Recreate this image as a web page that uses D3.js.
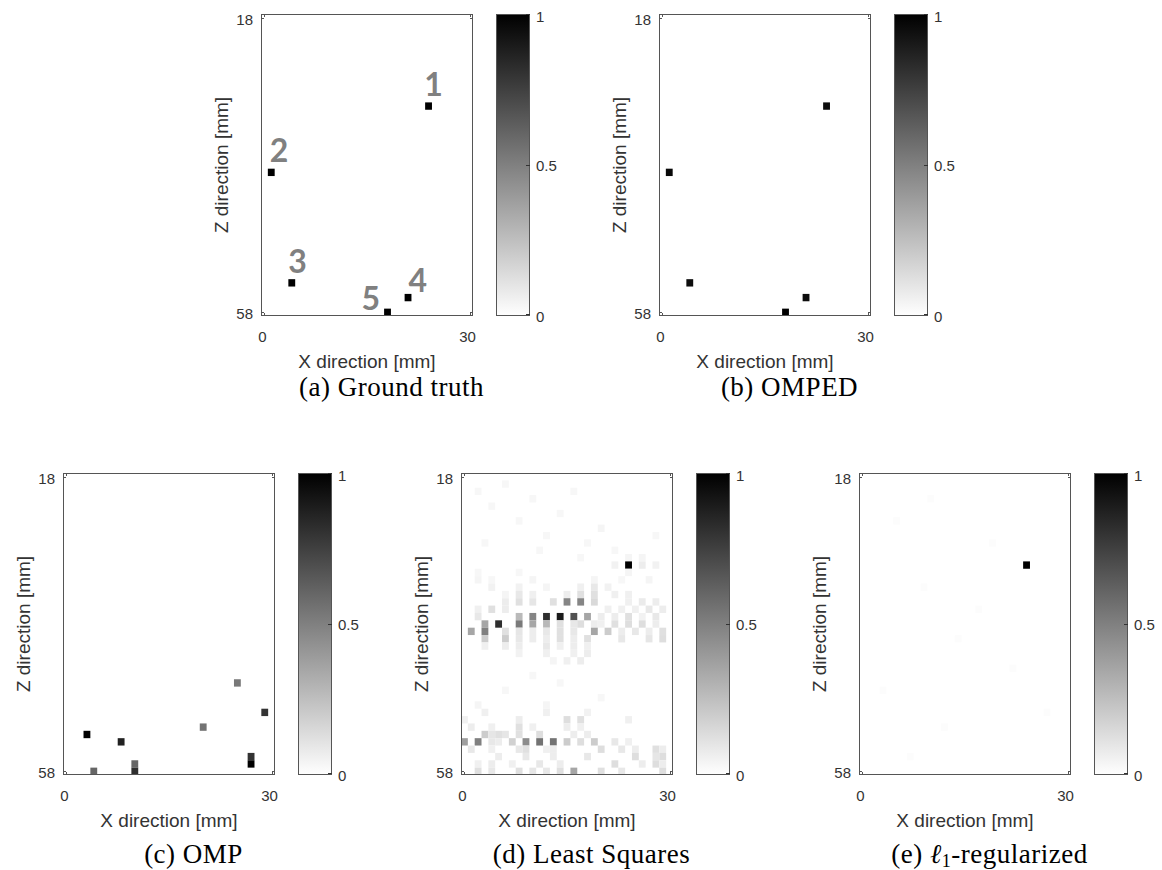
<!DOCTYPE html>
<html lang="en">
<head>
  <meta charset="UTF-8">
  <title>Sparse reconstruction comparison</title>
  <script src="https://cdn.jsdelivr.net/npm/d3@7"></script>
  <style>
    body { margin: 0; background: #fff; }
    .tick-label { font-family: "Liberation Sans", Arial, sans-serif; font-size: 15px; fill: #333; }
    .axis-label { font-family: "Liberation Sans", Arial, sans-serif; font-size: 19px; fill: #333; }
    .caption { font-family: "Liberation Serif", "Times New Roman", serif; font-size: 27px; fill: #000; letter-spacing: 0.5px; }
    .gt-num { font-family: Lato, "Open Sans", sans-serif; font-weight: 700; font-size: 32px; fill: #808080; }
  </style>
</head>
<body>
  <script>
    // grid: x 0..30 mm, z 18..58 mm, 1 mm cells
    const xTicks = [0, 30];
    const zTicks = [18, 58];
    const cbTicks = [0, 0.5, 1];

    // (a) ground truth scatterers
    const gtX = [24, 1, 4, 21, 18];
    const gtZ = [30, 39, 54, 56, 58];
    const gtV = [1, 1, 1, 1, 1];
    const gtNames = ["1", "2", "3", "4", "5"];

    // (b) OMPED
    const ompedX = [24, 1, 4, 21, 18];
    const ompedZ = [30, 39, 54, 56, 58];
    const ompedV = [0.95, 0.97, 0.95, 0.95, 1];

    // (c) OMP
    const ompX = [25, 29, 20, 3, 8, 27, 27, 10, 10, 4];
    const ompZ = [46, 50, 52, 53, 54, 56, 57, 57, 58, 58];
    const ompV = [0.53, 0.8, 0.55, 1.0, 0.87, 0.8, 1.0, 0.6, 0.82, 0.6];

    // (d) least squares [x, z, value]
    const lsCells = [
      [2,20,0.03],[6,19,0.03],[10,21,0.03],[16,20,0.03],[4,22,0.03],[14,23,0.03],[8,24,0.03],
      [20,25,0.04],[12,26,0.03],[28,26,0.03],[3,27,0.03],[18,27,0.03],[22,28,0.03],[11,28,0.03],
      [26,29,0.04],[17,29,0.03],[24,29,0.04],
      [24,30,1.0],[22,30,0.05],[26,30,0.07],[28,30,0.05],
      [24,31,0.04],[8,31,0.03],[2,31,0.03],
      [2,32,0.04],[4,32,0.03],[10,32,0.04],[19,32,0.04],[23,32,0.03],[27,32,0.04],
      [4,33,0.05],[8,33,0.05],[12,33,0.04],[17,33,0.06],[19,33,0.09],[21,33,0.05],
      [6,34,0.04],[8,34,0.09],[10,34,0.06],[15,34,0.07],[17,34,0.12],[19,34,0.12],[22,34,0.06],[24,34,0.06],
      [6,35,0.07],[8,35,0.12],[10,35,0.1],[13,35,0.12],[15,35,0.48],[17,35,0.48],[19,35,0.15],[24,35,0.06],[26,35,0.08],[28,35,0.07],
      [2,36,0.06],[4,36,0.12],[6,36,0.07],[21,36,0.06],[23,36,0.06],[25,36,0.06],[27,36,0.09],[29,36,0.07],
      [2,37,0.09],[8,37,0.27],[10,37,0.48],[12,37,0.82],[14,37,0.9],[16,37,0.68],[18,37,0.35],[20,37,0.07],[22,37,0.07],[24,37,0.12],[26,37,0.05],[28,37,0.09],
      [3,38,0.35],[5,38,0.82],[8,38,0.52],[10,38,0.35],[12,38,0.28],[14,38,0.12],[16,38,0.09],[17,38,0.13],[19,38,0.07],[20,38,0.06],[22,38,0.12],[24,38,0.13],[26,38,0.13],[28,38,0.07],
      [1,39,0.35],[3,39,0.5],[6,39,0.12],[8,39,0.1],[10,39,0.07],[12,39,0.09],[14,39,0.12],[16,39,0.09],[19,39,0.35],[21,39,0.2],[23,39,0.07],[25,39,0.09],[27,39,0.07],[29,39,0.12],
      [3,40,0.2],[6,40,0.2],[8,40,0.09],[10,40,0.07],[12,40,0.07],[14,40,0.12],[16,40,0.07],[18,40,0.12],[23,40,0.09],[27,40,0.1],[29,40,0.13],
      [3,41,0.06],[6,41,0.07],[8,41,0.07],[12,41,0.09],[14,41,0.06],[16,41,0.07],[18,41,0.06],
      [8,42,0.05],[12,42,0.06],[16,42,0.06],[18,42,0.07],
      [13,43,0.04],[15,43,0.06],[17,43,0.07],
      [10,45,0.03],[14,46,0.03],[6,47,0.03],[20,48,0.03],[2,49,0.04],[12,49,0.04],
      [3,50,0.06],[12,50,0.06],[18,50,0.05],
      [0,51,0.06],[8,51,0.07],[15,51,0.13],[17,51,0.12],[24,51,0.06],
      [1,52,0.07],[4,52,0.06],[8,52,0.12],[10,52,0.06],[15,52,0.07],[17,52,0.06],
      [3,53,0.2],[4,53,0.1],[5,53,0.12],[6,53,0.1],[8,53,0.12],[11,53,0.13],[16,53,0.07],[18,53,0.07],
      [0,54,0.38],[2,54,0.5],[4,54,0.09],[5,54,0.07],[7,54,0.18],[9,54,0.45],[11,54,0.55],[13,54,0.55],[15,54,0.2],[17,54,0.13],[19,54,0.2],[22,54,0.09],[24,54,0.06],
      [1,55,0.09],[4,55,0.06],[8,55,0.09],[9,55,0.12],[12,55,0.06],[13,55,0.07],[20,55,0.13],[23,55,0.09],[25,55,0.07],[28,55,0.12],[29,55,0.07],
      [5,56,0.07],[9,56,0.09],[13,56,0.07],[18,56,0.09],[25,56,0.13],[28,56,0.1],[29,56,0.13],
      [2,57,0.06],[4,57,0.07],[7,57,0.06],[11,57,0.09],[14,57,0.07],[22,57,0.13],[26,57,0.07],[28,57,0.13],[29,57,0.07],
      [2,58,0.12],[4,58,0.09],[8,58,0.12],[10,58,0.1],[12,58,0.09],[14,58,0.12],[16,58,0.35],[20,58,0.12],[23,58,0.09],[29,58,0.13]
    ];

    // (e) l1-regularized
    const l1X = [24, 5, 9, 14, 19, 3, 12, 22, 7, 17, 27, 10];
    const l1Z = [30, 24, 33, 40, 27, 47, 52, 44, 56, 36, 50, 21];
    const l1V = [1, 0.01, 0.01, 0.012, 0.01, 0.01, 0.012, 0.01, 0.01, 0.012, 0.01, 0.01];

    const toCells = (xs, zs, vs) => xs.map((x, i) => ({x: x, z: zs[i], v: vs[i]}));
    const fromTriples = t => t.map(d => ({x: d[0], z: d[1], v: d[2]}));

    const panelW = 212, panelH = 302, cbGap = 23, cbW = 34;

    const panels = [
      {left: 261, top: 14, capY: 396, cells: toCells(gtX, gtZ, gtV), caption: "(a) Ground truth", labels: true},
      {left: 659, top: 14, capY: 396, cells: toCells(ompedX, ompedZ, ompedV), caption: "(b) OMPED"},
      {left: 63, top: 473, capY: 863, cells: toCells(ompX, ompZ, ompV), caption: "(c) OMP"},
      {left: 461, top: 473, capY: 863, cells: fromTriples(lsCells), caption: "(d) Least Squares"},
      {left: 859, top: 473, capY: 863, cells: toCells(l1X, l1Z, l1V), caption: "l1"}
    ];

    const gray = d3.scaleLinear().domain([0, 1]).range(["#ffffff", "#000000"]);

    const svg = d3.select("body").append("svg")
      .attr("width", 1162).attr("height", 870);

    svg.append("rect").attr("width", 1162).attr("height", 870).attr("fill", "#fff");

    const defs = svg.append("defs");
    const grad = defs.append("linearGradient").attr("id", "cbgrad")
      .attr("x1", 0).attr("y1", 1).attr("x2", 0).attr("y2", 0);
    grad.selectAll("stop").data([0, 0.25, 0.5, 0.75, 1]).enter().append("stop")
      .attr("offset", d => d).attr("stop-color", d => gray(d));

    panels.forEach(p => {
      const g = svg.append("g").attr("transform", `translate(${p.left},${p.top})`);

      const x = d3.scaleLinear().domain([-0.5, 30.5]).range([0, panelW]);
      const z = d3.scaleLinear().domain([17.5, 58.5]).range([0, panelH]);

      // image cells
      g.append("g").selectAll("rect")
        .data(p.cells)
        .enter().append("rect")
        .attr("x", d => x(d.x - 0.5))
        .attr("y", d => z(d.z - 0.5))
        .attr("width", x(1) - x(0))
        .attr("height", z(1) - z(0))
        .attr("fill", d => gray(d.v));

      // box
      g.append("rect")
        .attr("x", 0.5).attr("y", 0.5)
        .attr("width", panelW - 1).attr("height", panelH - 1)
        .attr("fill", "none").attr("stroke", "#555").attr("stroke-width", 1);

      // small inner ticks (box on)
      xTicks.forEach(t => {
        const xx = Math.round(x(t)) + 0.5;
        g.append("line").attr("x1", xx).attr("x2", xx).attr("y1", panelH).attr("y2", panelH - 3).attr("stroke", "#555");
        g.append("line").attr("x1", xx).attr("x2", xx).attr("y1", 0).attr("y2", 3).attr("stroke", "#555");
        g.append("text").attr("class", "tick-label")
          .attr("x", x(t) - 2).attr("y", panelH + 26)
          .attr("text-anchor", "middle").text(t);
      });
      zTicks.forEach(t => {
        const yy = Math.round(z(t)) + 0.5;
        g.append("line").attr("x1", 0).attr("x2", 3).attr("y1", yy).attr("y2", yy).attr("stroke", "#555");
        g.append("line").attr("x1", panelW).attr("x2", panelW - 3).attr("y1", yy).attr("y2", yy).attr("stroke", "#555");
        g.append("text").attr("class", "tick-label")
          .attr("x", -8).attr("y", z(t) + 7)
          .attr("text-anchor", "end").text(t);
      });

      g.append("text").attr("class", "axis-label")
        .attr("x", panelW / 2).attr("y", panelH + 52)
        .attr("text-anchor", "middle").text("X direction [mm]");

      g.append("text").attr("class", "axis-label")
        .attr("transform", `translate(-33,${panelH / 2}) rotate(-90)`)
        .attr("text-anchor", "middle").text("Z direction [mm]");

      // colorbar
      const cb = g.append("g").attr("transform", `translate(${panelW + cbGap},0)`);
      const c = d3.scaleLinear().domain([0, 1]).range([panelH, 0]);
      cb.append("rect").attr("x", 0).attr("y", 0).attr("width", cbW).attr("height", panelH)
        .attr("fill", "url(#cbgrad)");
      cb.append("rect").attr("x", 0.5).attr("y", 0.5).attr("width", cbW - 1).attr("height", panelH - 1)
        .attr("fill", "none").attr("stroke", "#555");
      cbTicks.forEach(t => {
        const yy = Math.min(panelH - 1.5, Math.max(0.5, Math.round(c(t)) + 0.5));
        cb.append("line").attr("x1", cbW - 4).attr("x2", cbW).attr("y1", yy).attr("y2", yy).attr("stroke", "#333");
        cb.append("text").attr("class", "tick-label")
          .attr("x", cbW + 6).attr("y", c(t) + 6 + (t === 1 ? 2 : 0))
          .text(t);
      });

      // caption, centred under plot + colorbar
      const cap = svg.append("text").attr("class", "caption")
        .attr("x", p.left + (panelW + cbGap + cbW) / 2 - 4)
        .attr("y", p.capY)
        .attr("text-anchor", "middle");
      if (p.caption === "l1") {
        cap.append("tspan").text("(e) ");
        cap.append("tspan").attr("font-style", "italic").text("ℓ");
        cap.append("tspan").attr("font-size", "18px").attr("dy", 4).text("1");
        cap.append("tspan").attr("dy", -4).text("-regularized");
      } else {
        cap.text(p.caption);
      }

      // ground truth numbering
      if (p.labels) {
        p.cells.forEach((d, i) => {
          const left = x(d.x - 0.5), top = z(d.z - 0.5);
          const isLeft = gtNames[i] === "5";
          const dx = [-1, 2, 0, 4][i];
          const dy = [-6, -7, -6, -2][i];
          g.append("text").attr("class", "gt-num")
            .attr("x", isLeft ? left - 4 : left + dx)
            .attr("y", isLeft ? top + 1 : top + dy)
            .attr("text-anchor", isLeft ? "end" : "start")
            .text(gtNames[i]);
        });
      }
    });
  </script>
</body>
</html>
